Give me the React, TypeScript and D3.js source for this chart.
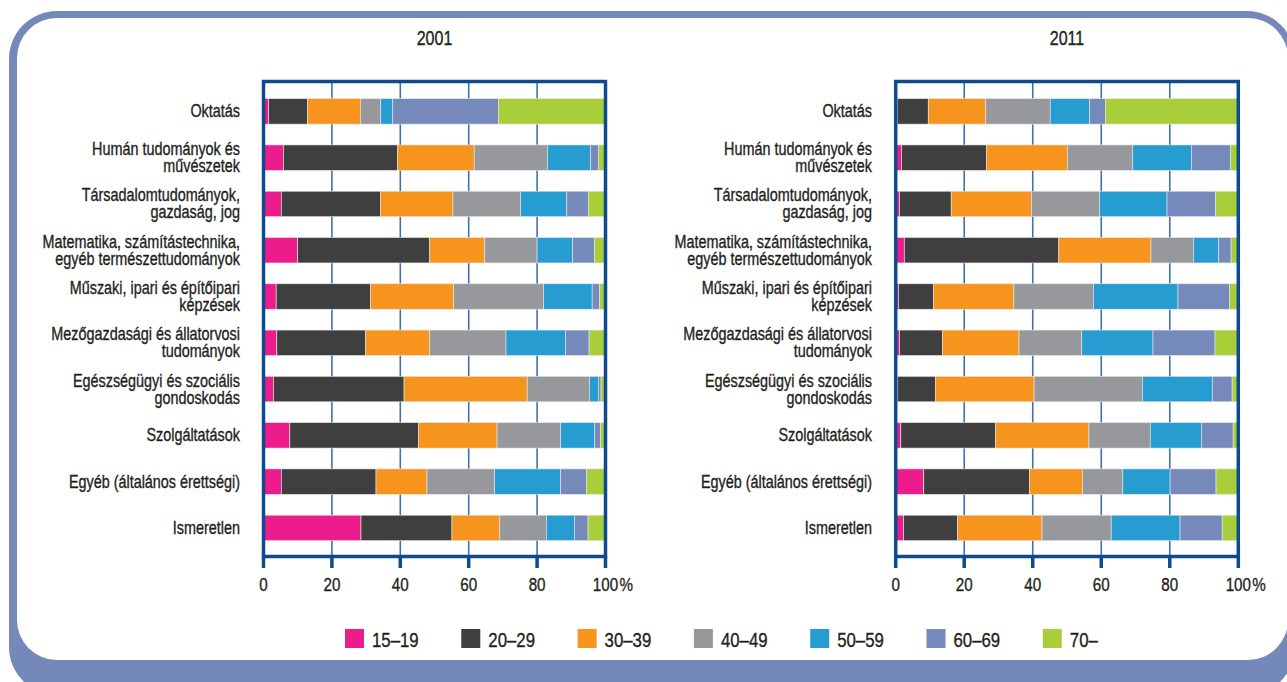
import React from "react";
import * as d3 from "d3";

const categories = [
  "Oktatás",
  "Humán tudományok és\nművészetek",
  "Társadalomtudományok,\ngazdaság, jog",
  "Matematika, számítástechnika,\negyéb természettudományok",
  "Műszaki, ipari és építőipari\nképzések",
  "Mezőgazdasági és állatorvosi\ntudományok",
  "Egészségügyi és szociális\ngondoskodás",
  "Szolgáltatások",
  "Egyéb (általános érettségi)",
  "Ismeretlen",
];

const ageGroups = ["15–19", "20–29", "30–39", "40–49", "50–59", "60–69", "70–"];
const ageColors = ["#ec1c8c", "#3f3f3f", "#f7941e", "#97989b", "#279cd0", "#758abb", "#a8cf3a"];

const years = ["2001", "2011"];

const values2001 = [
  [1.5, 11.4, 15.4, 6.0, 3.5, 30.9, 31.3],
  [5.8, 33.4, 22.4, 21.4, 12.6, 2.3, 2.1],
  [5.2, 29.0, 21.2, 19.8, 13.5, 6.3, 5.0],
  [10.0, 38.6, 16.1, 15.3, 10.4, 6.4, 3.2],
  [3.7, 27.6, 24.3, 26.3, 14.2, 2.2, 1.7],
  [3.9, 26.0, 18.7, 22.3, 17.4, 6.9, 4.8],
  [2.9, 38.2, 36.0, 18.2, 2.6, 0.8, 1.3],
  [7.7, 37.6, 23.0, 18.6, 9.9, 1.7, 1.5],
  [5.2, 27.7, 14.9, 19.8, 19.3, 7.5, 5.6],
  [28.5, 26.6, 14.0, 13.6, 8.2, 4.0, 5.1],
];

const values2011 = [
  [0.5, 9.0, 16.8, 18.8, 11.5, 4.6, 38.8],
  [1.7, 24.8, 23.6, 19.1, 17.1, 11.4, 2.3],
  [1.1, 15.1, 23.4, 19.9, 19.7, 14.2, 6.6],
  [2.5, 45.1, 26.9, 12.4, 7.3, 3.7, 2.1],
  [0.8, 10.2, 23.5, 23.2, 24.7, 15.0, 2.6],
  [1.1, 12.5, 22.4, 18.3, 20.8, 18.1, 6.8],
  [0.6, 11.0, 28.8, 31.6, 20.4, 5.8, 1.8],
  [1.5, 27.6, 27.3, 17.9, 14.9, 9.3, 1.5],
  [8.2, 30.8, 15.5, 11.8, 13.8, 13.4, 6.5],
  [2.3, 15.8, 24.6, 20.2, 20.1, 12.3, 4.7],
];

const xTicks = [0, 20, 40, 60, 80, 100];

const W = 1287;
const H = 682;
const FONT = "'Liberation Sans', Arial, sans-serif";
const SX = 0.8;
const FRAME = "#0d4a8e";
const TEXT = "#231f20";

const panels = [
  { year: years[0], data: values2001, x0: 263.5, x1: 605.5, labelX: 240 },
  { year: years[1], data: values2011, x0: 895.7, x1: 1238.3, labelX: 872 },
];

const plotTop = 81.5;
const plotBottom = 556.5;

function NText({ x, y, size, anchor = "start", children }: any) {
  return (
    <text
      transform={`translate(${x},${y}) scale(${SX},1)`}
      textAnchor={anchor}
      fontFamily={FONT}
      fontSize={size}
      fill={TEXT}
      stroke={TEXT}
      strokeWidth={0.35}
    >
      {children}
    </text>
  );
}

function Panel({ year, data, x0, x1, labelX }: any) {
  const x = d3.scaleLinear().domain([0, 100]).range([x0, x1]);
  const y = d3
    .scaleBand<string>()
    .domain(categories)
    .range([82, 557.3])
    .paddingInner(0.45)
    .paddingOuter(0.36);

  const rows = data.map((vals: number[], i: number) => {
    const o: any = { cat: categories[i] };
    ageGroups.forEach((g, j) => (o[g] = vals[j]));
    return o;
  });
  const series = d3.stack().keys(ageGroups).offset(d3.stackOffsetExpand)(rows);

  return (
    <g>
      <NText x={(x0 + x1) / 2} y={45} size={20} anchor="middle">
        {year}
      </NText>
      {xTicks.slice(1, -1).map((t) => (
        <line
          key={t}
          x1={x(t)}
          x2={x(t)}
          y1={plotTop}
          y2={plotBottom}
          stroke="#3f72ad"
          strokeWidth={1.6}
        />
      ))}
      {series.map((s, si) => (
        <g key={ageGroups[si]} fill={ageColors[si]}>
          {s.map((d: any, i: number) => (
            <rect
              key={i}
              x={x(d[0] * 100)}
              width={Math.max(0, x(d[1] * 100) - x(d[0] * 100))}
              y={y(categories[i])}
              height={y.bandwidth()}
              stroke="#e8e8e8"
              strokeWidth={0.6}
            />
          ))}
        </g>
      ))}
      <rect
        x={x0}
        y={plotTop}
        width={x1 - x0}
        height={plotBottom - plotTop}
        fill="none"
        stroke={FRAME}
        strokeWidth={3.5}
      />
      {xTicks.map((t) => (
        <line
          key={t}
          x1={x(t)}
          x2={x(t)}
          y1={plotBottom}
          y2={568}
          stroke={FRAME}
          strokeWidth={3.5}
        />
      ))}
      {xTicks.map((t) => (
        <NText key={t} x={x(t)} y={591} size={19} anchor="middle">
          {t}
        </NText>
      ))}
      <NText x={x(100) + 14} y={591} size={19}>
        %
      </NText>
      {categories.map((c) => {
        const lines = c.split("\n");
        const cy = (y(c) as number) + y.bandwidth() / 2;
        const lh = 17;
        const start = cy - ((lines.length - 1) * lh) / 2 + 6;
        return (
          <g key={c}>
            {lines.map((l, li) => (
              <NText key={li} x={labelX} y={start + li * lh} size={18} anchor="end">
                {l}
              </NText>
            ))}
          </g>
        );
      })}
    </g>
  );
}

export default function App() {
  const legendX = d3.scalePoint<string>().domain(ageGroups).range([345, 1042.8]);
  return (
    <svg
      width={W}
      height={H}
      style={{ position: "absolute", left: 0, top: 0, background: "#fff" }}
    >
      <rect x={9} y={11} width={1286} height={684} rx={48} fill="#7489ba" />
      <rect x={17} y={18} width={1271} height={642} rx={40} fill="#fff" />
      {panels.map((p) => (
        <Panel key={p.year} {...p} />
      ))}
      {ageGroups.map((g, i) => (
        <g key={g} transform={`translate(${legendX(g)},629)`}>
          <rect width={19} height={19} fill={ageColors[i]} />
          <NText x={27} y={18} size={21}>
            {g}
          </NText>
        </g>
      ))}
    </svg>
  );
}
